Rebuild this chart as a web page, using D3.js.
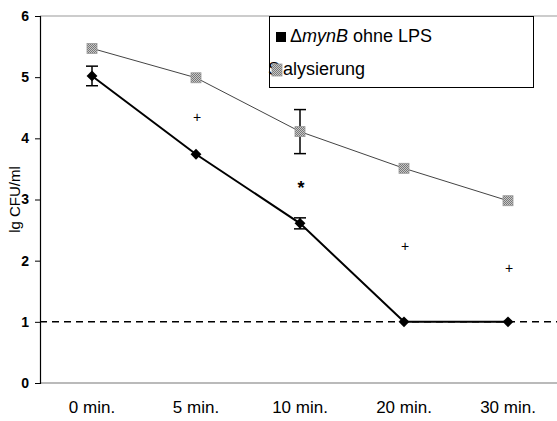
<!DOCTYPE html>
<html><head><meta charset="utf-8">
<script src="https://cdn.jsdelivr.net/npm/d3@7"></script>
<style>
body{margin:0;background:#fff;}
svg{font-family:"Liberation Sans",Arial,sans-serif;}
</style></head>
<body><svg id="c" width="557" height="421"></svg>
<script>
const categories = ["0 min.","5 min.","10 min.","20 min.","30 min."];
const lysisValues = [5.47, 4.99, 4.11, 3.51, 2.98];
const lysisErr = [0, 0, 0.36, 0, 0];
const mynBValues = [5.02, 3.74, 2.61, 1.0, 1.0];
const mynBErr = [0.16, 0, 0.09, 0, 0];
const sigMarks = [
  {cat:"5 min.", value:4.34, sym:"+"},
  {cat:"10 min.", value:3.26, sym:"*"},
  {cat:"20 min.", value:2.24, sym:"+"},
  {cat:"30 min.", value:1.88, sym:"+"}
];
const yTicks = [0,1,2,3,4,5,6];
const detectionLimit = 1;

const svg = d3.select("#c");
const mL = 40, mR = 560, mT = 16, mB = 383;
const x = d3.scaleBand().domain(categories).range([mL, mR]);
const y = d3.scaleLinear().domain([0,6]).range([mB, mT]);
const cx = c => x(c) + x.bandwidth()/2;

// frame top & bottom
svg.append("line").attr("x1",mL).attr("x2",557).attr("y1",mT).attr("y2",mT).attr("stroke","#999").attr("stroke-width",1);
svg.append("line").attr("x1",mL).attr("x2",557).attr("y1",mB).attr("y2",mB).attr("stroke","#777").attr("stroke-width",1.2);

// y axis
const yAxis = d3.axisLeft(y).tickValues(yTicks).tickFormat(d3.format("d")).tickSize(5).tickPadding(6);
const ga = svg.append("g").attr("transform",`translate(${mL},0)`).call(yAxis)
  .attr("font-size",14).attr("font-family","Liberation Sans, Arial, sans-serif");
ga.select(".domain").attr("stroke","#000").attr("stroke-width",1.2);
ga.selectAll(".tick line").attr("stroke","#000");
ga.selectAll("text").attr("fill","#000").attr("font-weight","bold");

// x labels
const xAxis = d3.axisBottom(x).tickSize(0).tickPadding(18);
const gx = svg.append("g").attr("transform",`translate(0,${mB})`).call(xAxis)
  .attr("font-size",17).attr("font-family","Liberation Sans, Arial, sans-serif");
gx.select(".domain").remove();
gx.selectAll("text").attr("fill","#000");

// y label
svg.append("text").attr("transform",`translate(20,${(mT+mB)/2}) rotate(-90)`)
  .attr("text-anchor","middle").attr("font-size",15).text("lg CFU/ml");

// detection limit
svg.append("line").attr("x1",mL).attr("x2",557).attr("y1",y(detectionLimit)).attr("y2",y(detectionLimit))
  .attr("stroke","#000").attr("stroke-width",1.5).attr("stroke-dasharray","7,5");

// pattern for gray markers
const defs = svg.append("defs");
const pat = defs.append("pattern").attr("id","chk").attr("width",2).attr("height",2).attr("patternUnits","userSpaceOnUse");
pat.append("rect").attr("width",2).attr("height",2).attr("fill","#c8c8c8");
pat.append("rect").attr("width",1).attr("height",1).attr("fill","#777");
pat.append("rect").attr("x",1).attr("y",1).attr("width",1).attr("height",1).attr("fill","#777");

const line = d3.line().x((d,i)=>cx(categories[i])).y(d=>y(d));

// lysis series
svg.append("path").datum(lysisValues).attr("d",line).attr("fill","none").attr("stroke","#444").attr("stroke-width",1);
// mynB series
svg.append("path").datum(mynBValues).attr("d",line).attr("fill","none").attr("stroke","#000").attr("stroke-width",2);

function errBars(vals, errs){
  vals.forEach((v,i)=>{
    if(!errs[i]) return;
    const X = cx(categories[i]);
    const g = svg.append("g").attr("stroke","#000").attr("stroke-width",1.5);
    g.append("line").attr("x1",X).attr("x2",X).attr("y1",y(v+errs[i])).attr("y2",y(v-errs[i]));
    [v+errs[i], v-errs[i]].forEach(e=>g.append("line").attr("x1",X-6).attr("x2",X+6).attr("y1",y(e)).attr("y2",y(e)));
  });
}
errBars(lysisValues, lysisErr);
errBars(mynBValues, mynBErr);

// markers
svg.selectAll(".lm").data(lysisValues).enter().append("rect")
  .attr("x",(d,i)=>cx(categories[i])-5).attr("y",d=>y(d)-5).attr("width",10).attr("height",10)
  .attr("fill","url(#chk)").attr("stroke","#999").attr("stroke-width",0.8);
svg.selectAll(".mm").data(mynBValues).enter().append("path")
  .attr("d",d3.symbol().type(d3.symbolDiamond2).size(75))
  .attr("transform",(d,i)=>`translate(${cx(categories[i])},${y(d)})`).attr("fill","#000");

// significance marks
svg.selectAll(".sig").data(sigMarks).enter().append("text")
  .attr("x",d=>cx(d.cat)+1).attr("y",d=>y(d.value)).attr("dy",d=>d.sym==="*"?"0.57em":"0.34em")
  .attr("text-anchor","middle").attr("font-size",d=>d.sym==="*"?18:14).attr("font-weight",d=>d.sym==="*"?"bold":"normal")
  .attr("fill","#000").text(d=>d.sym);

// legend
const lg = svg.append("g");
lg.append("rect").attr("x",269.5).attr("y",16.5).attr("width",264).attr("height",71).attr("fill","#fff").attr("stroke","#000").attr("stroke-width",1);
lg.append("rect").attr("x",276).attr("y",32).attr("width",10).attr("height",10).attr("fill","#000");
const t1 = lg.append("text").attr("x",290).attr("y",42).attr("font-size",18);
t1.append("tspan").text("Δ");
t1.append("tspan").attr("font-style","italic").text("mynB");
t1.append("tspan").text(" ohne LPS");
lg.append("text").attr("x",268).attr("y",75).attr("font-size",18).text("S");
lg.append("rect").attr("x",272).attr("y",64).attr("width",10).attr("height",12).attr("fill","url(#chk)").attr("stroke","#999").attr("stroke-width",0.8);
lg.append("text").attr("x",283).attr("y",75).attr("font-size",18).text("alysierung");
</script></body></html>
